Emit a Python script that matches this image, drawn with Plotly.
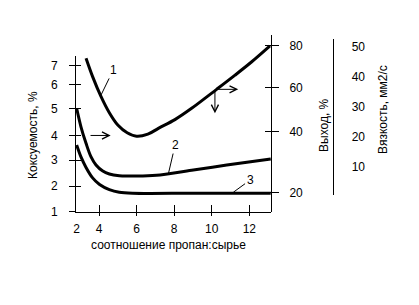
import plotly.graph_objects as go

FONT = "Liberation Sans, Arial, sans-serif"

# ---- axis ticks (hand-drawn chart: tick labels sit at their drawn heights) ----
x_tick_vals = [2.81, 4, 6, 8, 10, 12]
x_tick_text = ["2", "4", "6", "8", "10", "12"]

koks_tick_vals = [7.0, 6.22, 5.25, 4.14, 3.125, 2.056, 1.0]
koks_tick_text = ["7", "6", "5", "4", "3", "2", "1"]

vyhod_tick_vals = [80, 60.07, 38.8, 9.77]
vyhod_tick_text = ["80", "60", "40", "20"]

visc_tick_vals = [10, 20, 30, 40, 50]

# ---- curve 1 (Выход, %) ----
c1_x = [3.31, 3.66, 4.11, 4.55, 5.0, 5.5, 6.0, 6.6, 7.16, 8.04, 8.93, 10.26, 11.24, 12.13, 13.10]
c1_y = [74.0, 65.2, 55.6, 47.9, 42.0, 38.3, 36.6, 37.6, 40.4, 44.6, 50.0, 59.1, 65.9, 72.3, 79.9]

# ---- curve 2 (left axis) ----
c2_x = [2.81, 3.04, 3.31, 3.57, 3.84, 4.2, 4.55, 5.08, 5.61, 6.33, 7.25, 9.02, 10.8, 13.14]
c2_y = [5.25, 4.49, 3.81, 3.26, 2.92, 2.67, 2.55, 2.48, 2.47, 2.47, 2.51, 2.71, 2.92, 3.17]

# ---- curve 3 (left axis) ----
c3_x = [2.81, 3.04, 3.31, 3.66, 4.03, 4.55, 5.08, 5.79, 9.0, 13.14]
c3_y = [3.74, 3.25, 2.82, 2.39, 2.12, 1.91, 1.80, 1.76, 1.76, 1.76]

# ---- curve labels: (text, tip x, tip y, label x, label y, axis) ----
lab_text = ["1", "2", "3"]
lab_tip_x = [4.11, 7.69, 11.15]
lab_tip_y = [56.4, 2.55, 1.80]
lab_x = [4.76, 8.05, 12.04]
lab_y = [68.4, 3.74, 2.30]
lab_axis = ["y2", "y", "y"]

# ---- arrows (on Выход scale) ----
arr_tail_x = [3.47, 10.26, 10.17]
arr_tail_y = [37.0, 59.1, 58.8]
arr_tip_x = [4.62, 11.41, 10.17]
arr_tip_y = [37.0, 59.1, 47.6]

X_RANGE = [2.776, 13.154]
Y_RANGE = [0.9877, 7.3995]
Y2_RANGE = [0.335, 85.125]
Y5_RANGE = [0.567, 52.467]
XDOM = 195 / 343

line_style = dict(color="black", width=3, shape="spline", smoothing=0.9)

fig = go.Figure()
fig.add_trace(go.Scatter(x=c1_x, y=c1_y, xaxis="x", yaxis="y2", mode="lines", line=line_style,
                         showlegend=False, hoverinfo="skip"))
fig.add_trace(go.Scatter(x=c2_x, y=c2_y, xaxis="x", yaxis="y", mode="lines", line=line_style,
                         showlegend=False, hoverinfo="skip"))
fig.add_trace(go.Scatter(x=c3_x, y=c3_y, xaxis="x", yaxis="y", mode="lines", line=line_style,
                         showlegend=False, hoverinfo="skip"))
# empty traces so that the overlay axes are rendered
for xa, ya in [("x2", "y"), ("x", "y3"), ("x", "y4"), ("x", "y5")]:
    fig.add_trace(go.Scatter(x=[None], y=[None], xaxis=xa, yaxis=ya, mode="lines",
                             showlegend=False, hoverinfo="skip"))

common = dict(showgrid=False, zeroline=False, linecolor="black", linewidth=1,
              tickcolor="black", tickwidth=1, tickfont=dict(family=FONT, size=12, color="black"))

annotations = []
for t, tx, ty, lx, ly, ax_ in zip(lab_text, lab_tip_x, lab_tip_y, lab_x, lab_y, lab_axis):
    annotations.append(dict(text=t, x=tx, y=ty, xref="x", yref=ax_, ax=lx, ay=ly, axref="x", ayref=ax_,
                            showarrow=True, arrowhead=0, arrowwidth=1, arrowcolor="black",
                            font=dict(family=FONT, size=12, color="black")))
for tx0, ty0, tx1, ty1 in zip(arr_tail_x, arr_tail_y, arr_tip_x, arr_tip_y):
    annotations.append(dict(text="", x=tx1, y=ty1, xref="x", yref="y2", ax=tx0, ay=ty0, axref="x", ayref="y2",
                            showarrow=True, arrowhead=5, arrowsize=1.4, arrowwidth=1, arrowcolor="black"))

titles = [
    ("Коксуемость, %", -0.1254, 0.435, -90),
    ("Выход, %", 0.7230, 0.4915, -90),
    ("Вязкость, мм2/с", 0.8950, 0.5819, -90),
    ("соотношение пропан:сырье", 0.2711, -0.1864, 0),
]
for t, px, py, ang in titles:
    annotations.append(dict(text=t, x=px, y=py, xref="paper", yref="paper", showarrow=False,
                            textangle=ang, xanchor="center", yanchor="middle",
                            font=dict(family=FONT, size=12, color="black")))
annotations.append(dict(text="0", x=(276.7 - 76) / 343, y=0, xref="paper", yref="y2", showarrow=False,
                        xanchor="center", yanchor="middle", font=dict(family=FONT, size=12, color="black")))

fig.update_layout(
    width=419, height=305,
    margin=dict(l=76, r=0, t=35, b=93, pad=0),
    paper_bgcolor="white", plot_bgcolor="rgba(0,0,0,0)",
    showlegend=False,
    xaxis=dict(domain=[0, XDOM], range=X_RANGE, anchor="y", showline=True, ticks="inside", ticklen=7,
               tickmode="array", tickvals=x_tick_vals, ticktext=x_tick_text, ticklabelstandoff=6,
               automargin=False, **common),
    xaxis2=dict(overlaying="x", anchor="y", side="bottom", range=X_RANGE, showline=False, ticks="outside",
                ticklen=3, tickmode="array", tickvals=x_tick_vals[1:], showticklabels=False,
                automargin=False, **common),
    yaxis=dict(domain=[0, 156 / 177], range=Y_RANGE, anchor="x", side="left", showline=True, ticks="outside",
               ticklen=6, tickmode="array", tickvals=koks_tick_vals, ticktext=koks_tick_text,
               ticklabelstandoff=9, automargin=False, **common),
    yaxis3=dict(overlaying="y", anchor="x", side="left", range=Y_RANGE, showline=False, ticks="inside",
                ticklen=5, tickmode="array", tickvals=koks_tick_vals[:-1], showticklabels=False,
                automargin=False, **common),
    yaxis2=dict(domain=[0, 1], range=Y2_RANGE, anchor="x", side="right", showline=True, ticks="outside",
                ticklen=7, tickmode="array", tickvals=vyhod_tick_vals, ticktext=vyhod_tick_text,
                ticklabelstandoff=8, automargin=False, **common),
    yaxis4=dict(overlaying="y2", anchor="x", side="right", range=Y2_RANGE, showline=False, ticks="inside",
                ticklen=6, tickmode="array", tickvals=vyhod_tick_vals, showticklabels=False,
                automargin=False, **common),
    yaxis5=dict(domain=[17 / 177, 172.7 / 177], range=Y5_RANGE, anchor="free", position=(333.3 - 76) / 343,
                side="right", showline=True, ticks="", tickmode="array", tickvals=visc_tick_vals,
                ticklabelstandoff=15, automargin=False, **common),
    annotations=annotations,
)

fig.write_html("out.html")
